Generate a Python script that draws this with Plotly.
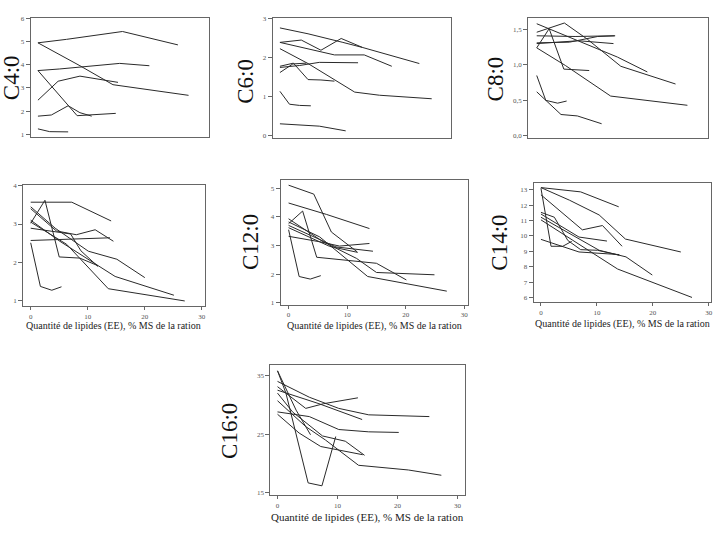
import plotly.graph_objects as go

W, H = 719, 544

# ---- data (x = Quantité de lipides, y = fatty acid) ----
C4_x = [[0, 5.1, 15.1, 25.0], [0, 7.5, 13.4, 26.9], [0, 3.9, 14.6, 19.9], [0, 7.0, 13.9],
        [0, 2.4, 5.4, 7.5, 9.6], [0, 3.6, 7.5, 14.3], [0, 2.1, 5.4]]
C4_y = [[4.95, 5.10, 5.44, 4.86], [4.95, 3.96, 3.14, 2.68], [3.75, 3.82, 4.06, 3.96], [3.75, 1.80, 1.90],
        [1.78, 1.83, 2.23, 1.93, 1.78], [2.47, 3.29, 3.51, 3.24], [1.23, 1.11, 1.10]]

C6_x = [[0, 5.0, 11.2, 14.7, 24.8], [0, 3.8, 7.3, 10.9, 14.7], [0, 5.0, 9.7, 15.0, 19.9],
        [0, 5.0, 13.3, 17.7, 27.0], [0, 2.4, 5.0, 7.3, 9.7], [0, 3.5, 7.0, 13.9], [0, 2.3, 4.7],
        [0, 1.7, 3.5, 5.5], [0, 7.0, 11.7]]
C6_y = [[2.76, 2.61, 2.39, 2.26, 1.85], [2.39, 2.45, 2.19, 2.49, 2.26], [2.39, 2.22, 2.07, 2.07, 1.78],
        [2.23, 1.85, 1.12, 1.04, 0.95], [1.78, 1.86, 1.44, 1.43, 1.40], [1.75, 1.80, 1.88, 1.87], [1.62, 1.84, 1.86],
        [1.14, 0.81, 0.78, 0.77], [0.31, 0.25, 0.13]]

C8_x = [[0.2, 7.2, 14.5, 19.8], [0.2, 5.1, 9.2, 15.1, 24.8], [0.2, 7.0, 14.0], [0.2, 2.4, 5.0, 9.5],
        [0.2, 7.6, 13.8], [0.2, 6.0, 11.0, 14.1], [0.2, 5.3, 13.3, 26.9], [0.2, 1.8, 3.9, 5.5],
        [0.2, 4.5, 7.4, 11.7]]
C8_y = [[1.58, 1.35, 1.11, 0.90], [1.46, 1.59, 1.36, 0.98, 0.73], [1.41, 1.40, 1.41], [1.24, 1.51, 0.94, 0.92],
        [1.30, 1.34, 1.30], [1.31, 1.32, 1.40, 1.41], [1.24, 0.99, 0.56, 0.43], [0.85, 0.50, 0.46, 0.49],
        [0.62, 0.30, 0.28, 0.17]]

C10_x = [[0, 7.2, 14.1], [0, 2.5, 5.0, 8.6, 11.8], [0, 4.3, 10.1, 15.1, 20.0], [0, 4.5, 8.0, 11.3, 14.5],
         [0, 5.1, 14.8, 25.1], [0, 6.3, 13.6, 27.0], [0, 7.0, 8.8, 11.8], [0, 13.9], [0, 1.7, 3.7, 5.4]]
C10_y = [[3.57, 3.57, 3.08], [3.02, 3.62, 2.14, 2.11, 1.91], [3.45, 2.89, 2.29, 2.08, 1.60],
         [3.40, 2.82, 2.72, 2.85, 2.55], [3.10, 2.55, 1.63, 1.14], [3.05, 2.47, 1.31, 0.99],
         [2.89, 2.74, 2.30, 1.89], [2.57, 2.64], [2.51, 1.37, 1.27, 1.36]]

C12_x = [[0, 4.3, 7.3, 11.7], [0, 6.5, 13.8], [0, 2.4, 4.8, 15.0, 20.1], [0, 5.9, 11.6, 15.0, 24.9],
         [0, 5.3, 13.5, 20.1, 27.0], [0, 8.1, 14.4], [0, 5.3, 8.7, 13.8], [0, 1.8, 3.7, 5.5], [0, 7.0, 11.8]]
C12_y = [[5.10, 4.79, 3.47, 2.78], [4.48, 4.08, 3.59], [3.76, 4.20, 2.59, 2.38, 1.80], [3.93, 3.13, 2.55, 2.06, 1.98],
         [3.82, 3.30, 1.92, 1.67, 1.41], [3.70, 2.95, 2.80], [3.32, 3.13, 2.98, 3.07], [3.55, 1.92, 1.83, 1.95],
         [3.62, 2.97, 2.76]]

C14_x = [[0, 7.1, 13.9], [0, 5.1, 10.4, 15.1, 25.0], [0, 7.4, 11.0, 14.5], [0, 1.8, 3.9, 5.5],
         [0, 2.4, 4.8, 7.1, 10.1, 14.0], [0, 6.8, 11.8], [0, 10.4, 15.2, 19.9], [0, 13.7, 27.0], [0, 6.8, 14.0]]
C14_y = [[13.15, 12.87, 11.90], [13.15, 12.33, 11.37, 9.80, 8.96], [12.68, 10.40, 10.68, 9.33], [13.11, 9.33, 9.33, 9.65],
         [11.54, 11.22, 9.71, 9.11, 9.07, 8.75], [11.43, 9.93, 9.67], [11.22, 9.07, 8.64, 7.46], [11.05, 7.85, 6.00],
         [9.78, 8.96, 8.79]]

C16_x = [[0, 1.4, 5.1, 7.4, 9.7], [0, 3.1, 5.5], [0, 5.3, 10.2, 15.2, 25.3], [0, 4.7, 7.7, 13.4],
         [0, 6.9, 14.1], [0, 2.5, 7.5, 11.3, 14.5], [0, 5.3, 10.2, 15.2, 20.2],
         [0, 4.7, 8.0, 13.5, 21.8, 27.3], [0, 3.6, 7.2, 14.2]]
C16_y = [[35.8, 32.0, 16.7, 16.2, 24.6], [35.8, 29.1, 24.9], [34.0, 31.3, 29.4, 28.3, 28.0], [33.1, 29.4, 30.2, 31.2],
         [32.5, 30.2, 27.5], [32.0, 28.8, 24.7, 23.8, 21.4], [28.8, 28.0, 25.8, 25.4, 25.3],
         [30.7, 26.3, 24.0, 19.7, 18.9, 18.0], [28.4, 25.2, 22.9, 21.5]]

LABELS = ["C4:0", "C6:0", "C8:0", "", "C12:0", "C14:0", "C16:0"]
XTITLE = "Quantité de lipides (EE), % MS de la ration"
X_TICKS = [0, 10, 20, 30]

# ---- layout (pixel boxes) ----
panels = [
    dict(xs=C4_x, ys=C4_y, box=(30.7, 209, 15, 135.7), xr=[-1.3, 30.5], yr=[0.87, 6.03],
         yt=[1, 2, 3, 4, 5, 6], ytt=None, xt=False, lab=(11, 75)),
    dict(xs=C6_x, ys=C6_y, box=(273, 452, 15.3, 136), xr=[-1.3, 30.5], yr=[-0.04, 3.01],
         yt=[0, 1, 2, 3], ytt=None, xt=False, lab=(245, 79)),
    dict(xs=C8_x, ys=C8_y, box=(529, 708.7, 15, 136), xr=[-1.3, 30.5], yr=[-0.024, 1.663],
         yt=[0, 0.5, 1.0, 1.5], ytt=["0,0", "0,5", "1,0", "1,5"], xt=False, lab=(496, 77)),
    dict(xs=C10_x, ys=C10_y, box=(23.3, 205, 184, 306.7), xr=[-1.3, 30.5], yr=[0.85, 4.02],
         yt=[1, 2, 3, 4], ytt=None, xt=True, lab=None, xty=326.7, xtf=10),
    dict(xs=C12_x, ys=C12_y, box=(281, 468.3, 179.3, 305), xr=[-1.36, 30.56], yr=[0.94, 5.27],
         yt=[1, 2, 3, 4, 5], ytt=None, xt=True, lab=(251, 242), xty=326.7, xtf=10),
    dict(xs=C14_x, ys=C14_y, box=(534.3, 712.3, 182.3, 302.7), xr=[-1.32, 30.45], yr=[5.68, 13.43],
         yt=list(range(6, 14)), ytt=None, xt=True, lab=(500, 242), xty=325, xtf=10),
    dict(xs=C16_x, ys=C16_y, box=(270.7, 466, 366, 497.7), xr=[-1.2, 31.3], yr=[14.6, 36.8],
         yt=[15, 25, 35], ytt=None, xt=True, lab=(230, 433), xty=520, xtf=11),
]

fig = go.Figure()
annotations = []
tickfont = dict(family="Liberation Serif", size=7, color="#555")

for i, p in enumerate(panels):
    n = i + 1
    xa = "x" if n == 1 else f"x{n}"
    ya = "y" if n == 1 else f"y{n}"
    for xs, ys in zip(p["xs"], p["ys"]):
        fig.add_trace(go.Scatter(x=xs, y=ys, mode="lines", xaxis=xa, yaxis=ya,
                                 line=dict(color="#2a2a2a", width=1), showlegend=False,
                                 hoverinfo="skip"))
    l, r, t, b = p["box"]
    xkey = "xaxis" if n == 1 else f"xaxis{n}"
    ykey = "yaxis" if n == 1 else f"yaxis{n}"
    fig.update_layout(**{
        xkey: dict(domain=[l / W, r / W], range=p["xr"], anchor=ya,
                   showgrid=False, zeroline=False, showline=True, mirror=True,
                   linecolor="#666", linewidth=1,
                   ticks="outside" if p["xt"] else "", ticklen=3, tickcolor="#666",
                   tickvals=X_TICKS if p["xt"] else [], showticklabels=p["xt"],
                   tickfont=tickfont, fixedrange=True),
        ykey: dict(domain=[1 - b / H, 1 - t / H], range=p["yr"], anchor=xa,
                   showgrid=False, zeroline=False, showline=True, mirror=True,
                   linecolor="#666", linewidth=1,
                   ticks="outside", ticklen=4, tickcolor="#666",
                   tickvals=p["yt"], ticktext=p["ytt"] if p["ytt"] else [str(v) for v in p["yt"]],
                   tickfont=tickfont, fixedrange=True),
    })
    if p["lab"]:
        annotations.append(dict(text=LABELS[i], x=p["lab"][0] / W, y=1 - p["lab"][1] / H,
                                xref="paper", yref="paper", showarrow=False, textangle=-90,
                                xanchor="center", yanchor="middle",
                                font=dict(family="Liberation Serif", size=23, color="#111")))
    if p["xt"]:
        annotations.append(dict(text=XTITLE, x=(l + r) / 2 / W, y=1 - p["xty"] / H,
                                xref="paper", yref="paper", showarrow=False,
                                xanchor="center", yanchor="middle",
                                font=dict(family="Liberation Serif", size=p["xtf"], color="#222")))

fig.update_layout(width=W, height=H, margin=dict(l=0, r=0, t=0, b=0),
                  paper_bgcolor="white", plot_bgcolor="white",
                  annotations=annotations, showlegend=False)

fig.write_html("out.html")
